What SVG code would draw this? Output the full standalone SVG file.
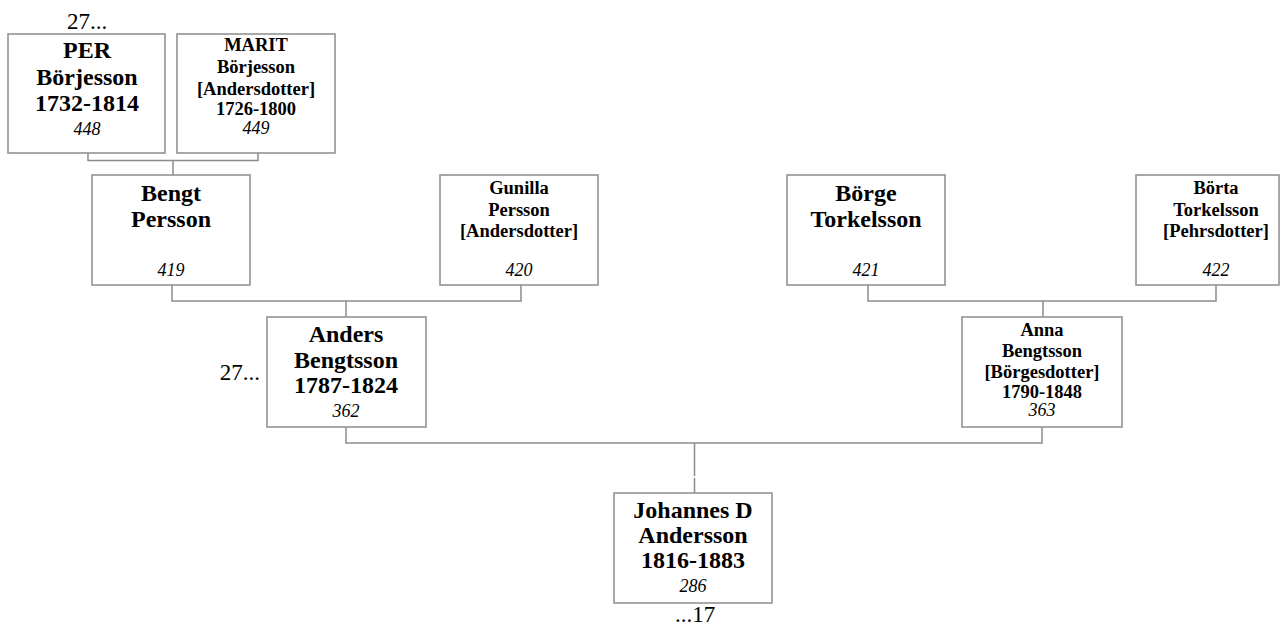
<svg xmlns="http://www.w3.org/2000/svg" width="1282" height="626" viewBox="0 0 1282 626">
<style>
.box{fill:#fff;stroke:#8c8c8c;stroke-width:1.5}
.ln{fill:none;stroke:#8c8c8c;stroke-width:1.5}
text{font-family:"Liberation Serif","Times New Roman",serif;fill:#000;text-anchor:middle}
.L{font-size:24px;font-weight:bold}
.S{font-size:18.5px;font-weight:bold}
.n{font-size:18px;font-style:italic}
.r{font-size:23px}
</style>
<rect width="1282" height="626" fill="#fff"/>
<g id="connectors">
<path class="ln" d="M88 153V160.5H258V153M173 160.5V175"/>
<path class="ln" d="M172 285V301H521V285M346 301V317"/>
<path class="ln" d="M868 285V301H1216V285M1043 301V317"/>
<path class="ln" d="M346 427V443H1042V427M694.5 443V476M694.5 478V493"/>
</g>
<g id="per">
<rect class="box" x="8" y="34" width="157" height="119"/>
<text class="L" x="87" y="58">PER</text>
<text class="L" x="87" y="85">Börjesson</text>
<text class="L" x="87" y="111">1732-1814</text>
<text class="n" x="87" y="135">448</text>
</g>
<g id="marit">
<rect class="box" x="177" y="34" width="158" height="119"/>
<text class="S" x="256" y="51">MARIT</text>
<text class="S" x="256" y="73">Börjesson</text>
<text class="S" x="256" y="95">[Andersdotter]</text>
<text class="S" x="256" y="115">1726-1800</text>
<text class="n" x="256" y="134">449</text>
</g>
<g id="bengt">
<rect class="box" x="92" y="175" width="158" height="110"/>
<text class="L" x="171" y="201">Bengt</text>
<text class="L" x="171" y="227">Persson</text>
<text class="n" x="171" y="276">419</text>
</g>
<g id="gunilla">
<rect class="box" x="440" y="175" width="158" height="110"/>
<text class="S" x="519" y="194">Gunilla</text>
<text class="S" x="519" y="216">Persson</text>
<text class="S" x="519" y="237">[Andersdotter]</text>
<text class="n" x="519" y="276">420</text>
</g>
<g id="borge">
<rect class="box" x="787" y="175" width="158" height="110"/>
<text class="L" x="866" y="201">Börge</text>
<text class="L" x="866" y="227">Torkelsson</text>
<text class="n" x="866" y="276">421</text>
</g>
<g id="borta">
<rect class="box" x="1136" y="175" width="143" height="110"/>
<text class="S" x="1216" y="194">Börta</text>
<text class="S" x="1216" y="216">Torkelsson</text>
<text class="S" x="1216" y="237">[Pehrsdotter]</text>
<text class="n" x="1216" y="276">422</text>
</g>
<g id="anders">
<rect class="box" x="267" y="317" width="159" height="110"/>
<text class="L" x="346" y="342">Anders</text>
<text class="L" x="346" y="368">Bengtsson</text>
<text class="L" x="346" y="393">1787-1824</text>
<text class="n" x="346" y="417">362</text>
</g>
<g id="anna">
<rect class="box" x="962" y="317" width="160" height="110"/>
<text class="S" x="1042" y="336">Anna</text>
<text class="S" x="1042" y="357">Bengtsson</text>
<text class="S" x="1042" y="378">[Börgesdotter]</text>
<text class="S" x="1042" y="398">1790-1848</text>
<text class="n" x="1042" y="416">363</text>
</g>
<g id="johannes">
<rect class="box" x="614" y="493" width="158" height="110"/>
<text class="L" x="693" y="518">Johannes D</text>
<text class="L" x="693" y="543">Andersson</text>
<text class="L" x="693" y="568">1816-1883</text>
<text class="n" x="693" y="592">286</text>
</g>
<g id="labels">
<text class="r" x="87" y="29">27...</text>
<text class="r" x="260" y="380" style="text-anchor:end">27...</text>
<text class="r" x="695" y="622">...17</text>
</g>
</svg>
